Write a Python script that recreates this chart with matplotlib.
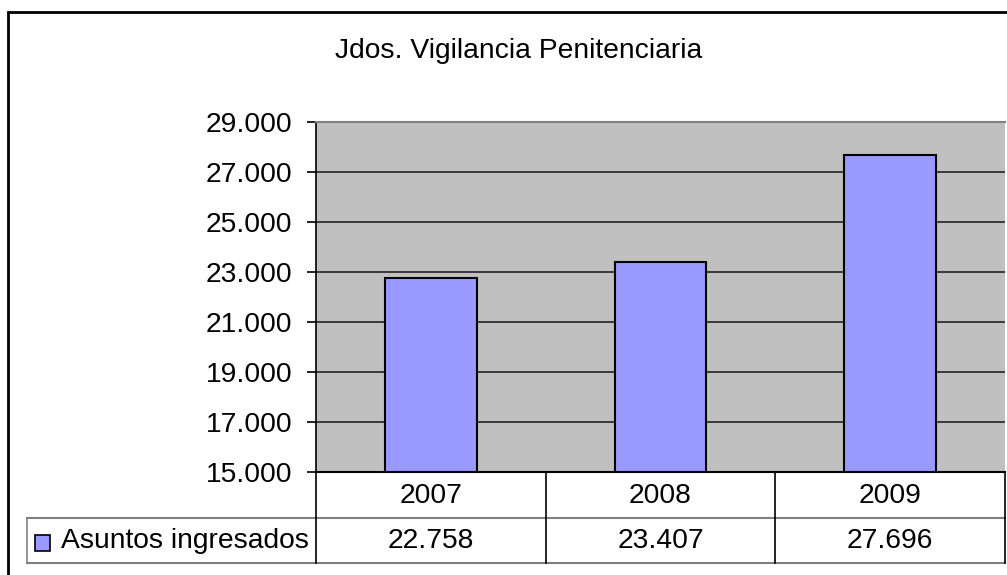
import matplotlib
matplotlib.use("Agg")
import matplotlib.pyplot as plt
from matplotlib.lines import Line2D
from matplotlib.patches import Rectangle

years = ["2007", "2008", "2009"]
asuntos = [22758, 23407, 27696]
serie = "Asuntos ingresados"
titulo = "Jdos. Vigilancia Penitenciaria"
yticks = [15000, 17000, 19000, 21000, 23000, 25000, 27000, 29000]

W, H = 1007, 575
FS = 20.3
plt.rcParams['font.family'] = ['Liberation Sans', 'DejaVu Sans']


def fx(px):
    return px / W


def fy(py):
    return 1 - py / H


def fmt(v):
    return f"{v:,}".replace(",", ".")


fig = plt.figure(figsize=(W / 100, H / 100), dpi=100)

# outer chart border (cut on right and bottom as in the screenshot)
fig.add_artist(Rectangle((fx(8), fy(620)), fx(1050), fy(12) - fy(620),
                         transform=fig.transFigure, fill=False,
                         edgecolor='black', linewidth=2))

left, right, top, bottom = 316, 1005, 122, 472
ax = fig.add_axes([fx(left), fy(bottom), fx(right) - fx(left), fy(top) - fy(bottom)])
ax.set_facecolor('#C0C0C0')
x = list(range(len(years)))
ax.bar(x, asuntos, width=0.4, color='#9999FF', edgecolor='black', linewidth=1.5, zorder=3)
ax.set_xlim(-0.5, len(years) - 0.5)
ax.set_ylim(15000, 29000)
ax.set_yticks(yticks)
ax.set_yticklabels([fmt(v) for v in yticks], fontsize=FS)
ax.yaxis.grid(True, color='#222222', linewidth=1.2, zorder=1)
ax.set_axisbelow(True)
ax.set_xticks([])
ax.tick_params(axis='y', direction='out', length=6.5, width=1.2, pad=10.5)
for s in ['bottom', 'right']:
    ax.spines[s].set_visible(False)
ax.spines['top'].set_color('#808080')
ax.spines['top'].set_linewidth(1.5)
ax.spines['left'].set_color('black')
ax.spines['left'].set_linewidth(1.2)

fig.text(fx(519), fy(51), titulo, ha='center', va='center', fontsize=FS)

# data table below the plot
row1, row2, row3 = 472, 518, 563
colw = (right - left) / len(years)
gray = '#808080'


def hline(y, x0, x1, c=gray):
    fig.add_artist(Line2D([fx(x0), fx(x1)], [fy(y), fy(y)], transform=fig.transFigure,
                          color=c, linewidth=1.5))


def vline(xp, y0, y1, c='black'):
    fig.add_artist(Line2D([fx(xp), fx(xp)], [fy(y0), fy(y1)], transform=fig.transFigure,
                          color=c, linewidth=1.2))


hline(row1, left, right, 'black')
hline(row2, 27, right)
hline(row3, 27, right)
vline(27, row2, row3, gray)
for i in range(len(years) + 1):
    vline(left + i * colw, row1, row3)

for i, (yr, v) in enumerate(zip(years, asuntos)):
    cx = left + (i + 0.5) * colw
    fig.text(fx(cx), fy((row1 + row2) / 2 + 1), yr, ha='center', va='center', fontsize=FS)
    fig.text(fx(cx), fy((row2 + row3) / 2 + 1), fmt(v), ha='center', va='center', fontsize=FS)

fig.add_artist(Rectangle((fx(35), fy(551)), fx(15), fy(535) - fy(551),
                         transform=fig.transFigure, facecolor='#9999FF',
                         edgecolor='black', linewidth=1.2))
fig.text(fx(61), fy((row2 + row3) / 2 + 1), serie, ha='left', va='center', fontsize=FS)

plt.savefig("out.png", dpi=100)
